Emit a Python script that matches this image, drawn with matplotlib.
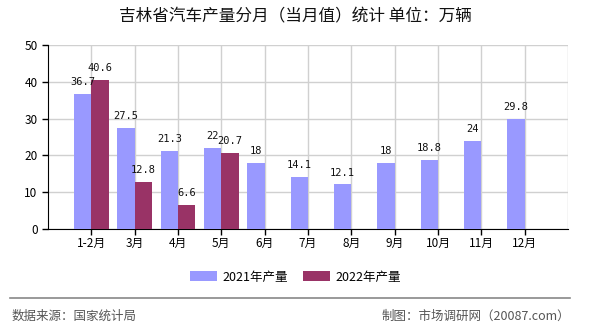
import matplotlib
matplotlib.use("Agg")
import matplotlib.pyplot as plt
from matplotlib.lines import Line2D
import numpy as np

plt.rcParams['font.family'] = ['Noto Sans CJK SC', 'DejaVu Sans']

months = ["1-2月", "3月", "4月", "5月", "6月", "7月", "8月", "9月", "10月", "11月", "12月"]
prod_2021 = [36.7, 27.5, 21.3, 22, 18, 14.1, 12.1, 18, 18.8, 24, 29.8]
prod_2022 = [40.6, 12.8, 6.6, 20.7]
yticks = [0, 10, 20, 30, 40, 50]

c2021 = "#9999FF"
c2022 = "#993366"
grid_c = "#D0D0D0"

fig = plt.figure(figsize=(5.9, 3.3), dpi=100)
ax = fig.add_axes([48 / 590, 1 - 229 / 330, 520 / 590, 184 / 330])

x = np.arange(len(months))
w = 0.40
x22 = np.arange(len(prod_2022))
b1 = ax.bar(x - w / 2, prod_2021, width=w, color=c2021, label="2021年产量", zorder=3)
b2 = ax.bar(x22 + w / 2, prod_2022, width=w, color=c2022, label="2022年产量", zorder=3)

for bars, vals in ((b1, prod_2021), (b2, prod_2022)):
    for rect, v in zip(bars, vals):
        ax.annotate(f"{v:g}", (rect.get_x() + rect.get_width() / 2, v),
                    xytext=(0, 5), textcoords="offset points",
                    ha="center", va="bottom", fontsize=7.5,
                    family="DejaVu Sans Mono", color="#111111", zorder=4)

ax.set_xlim(-1, len(months))
ax.set_ylim(0, 50)
ax.set_yticks(yticks)
ax.set_xticks(x)
ax.set_xticklabels(months)
ax.tick_params(axis="both", labelsize=8.5, direction="out", length=4, width=1, colors="black")
ax.tick_params(axis="x", pad=2)

ax.grid(True, axis="both", color=grid_c, linewidth=1, zorder=0)
ax.axvline(len(months), color=grid_c, linewidth=1, zorder=0)
for side in ("top", "right"):
    ax.spines[side].set_visible(False)
ax.spines["left"].set_color("black")
ax.spines["bottom"].set_color("black")

fig.text(0.5, 1 - 17 / 330, "吉林省汽车产量分月（当月值）统计 单位：万辆",
         ha="center", va="center", fontsize=12, color="#111111")

fig.legend(handles=[b1, b2], loc="center", bbox_to_anchor=(0.5, 1 - 277 / 330),
           ncol=2, frameon=False, fontsize=9, handlelength=2.2, handleheight=0.8,
           columnspacing=1.2, handletextpad=0.4)

fig.add_artist(Line2D([10 / 590, 570 / 590], [1 - 298 / 330] * 2,
                      transform=fig.transFigure, color="#888888", linewidth=1.2))
fig.text(12 / 590, 1 - 316 / 330, "数据来源：国家统计局", ha="left", va="center",
         fontsize=9, color="#555555")
fig.text(570 / 590, 1 - 316 / 330, "制图：市场调研网（20087.com）", ha="right", va="center",
         fontsize=9, color="#555555")

fig.savefig("out.png", dpi=100)
